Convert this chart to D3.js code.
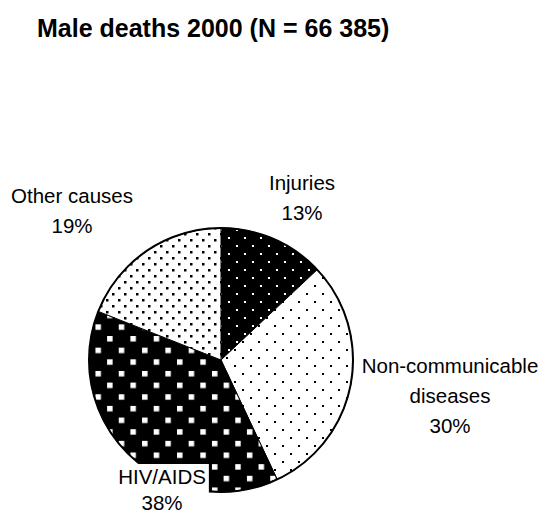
<!DOCTYPE html>
<html>
<head>
<meta charset="utf-8">
<script src="https://cdn.jsdelivr.net/npm/d3@7"></script>
<style>
  body { margin: 0; background: #fff; }
  svg { display: block; }
  text { font-family: Arial, "Liberation Sans", sans-serif; fill: #000; }
</style>
</head>
<body>
<svg id="chart" width="541" height="513"></svg>
<script>
// Causes of male deaths, 2000 (percent of all deaths)
const categories = ["Injuries", "Non-communicable diseases", "HIV/AIDS", "Other causes"];
const shares = [13, 30, 38, 19];
const labelLines = [["Injuries"], ["Non-communicable", "diseases"], ["HIV/AIDS"], ["Other causes"]];
const titleText = "Male deaths 2000 (N = 66 385)";

// layout
const W = 541, H = 513;
const cx = 221, cy = 360, R = 132;
const lineGap = [30, 30, 26, 30];
// first-line baseline of each label, relative to the pie centre
const labelOffset = [[81, -170], [229, 13], [-59, 124], [-149, -157]];
// labels drawn on an opaque white box
const labelBoxed = [false, false, true, false];
const fills = ["url(#pInj)", "url(#pNcd)", "url(#pHiv)", "url(#pOth)"];

const svg = d3.select("#chart");
const defs = svg.append("defs");

// dot / square hatch patterns
function pattern(id, size, bg, fg, dot, offs) {
  const p = defs.append("pattern")
    .attr("id", id)
    .attr("patternUnits", "userSpaceOnUse")
    .attr("width", size).attr("height", size)
    .attr("x", offs[0]).attr("y", offs[1]);
  p.append("rect").attr("width", size).attr("height", size).attr("fill", bg);
  [[0, 0], [size / 2, size / 2]].forEach(([x, y]) => {
    p.append("rect").attr("x", x).attr("y", y)
      .attr("width", dot).attr("height", dot).attr("fill", fg);
  });
}
pattern("pInj", 16, "#000", "#fff", 2, [223, 237]);
pattern("pNcd", 16, "#fff", "#000", 2, [213, 285]);
pattern("pHiv", 23.3, "#000", "#fff", 5.5, [189, 442]);
pattern("pOth", 12, "#fff", "#000", 2.5, [149, 263]);

svg.append("text")
  .attr("x", 37).attr("y", 37)
  .attr("font-size", 25).attr("font-weight", "bold")
  .text(titleText);

const pie = d3.pie().sort(null).value(d => d)(shares);
const arc = d3.arc().innerRadius(0).outerRadius(R);

const g = svg.append("g").attr("transform", `translate(${cx},${cy})`);

g.selectAll("path.slice")
  .data(pie)
  .join("path")
  .attr("class", "slice")
  .attr("d", arc)
  .attr("fill", (d, i) => fills[i])
  .attr("stroke", "#000")
  .attr("stroke-width", 1);

g.append("circle")
  .attr("r", R)
  .attr("fill", "none")
  .attr("stroke", "#000")
  .attr("stroke-width", 2);

const labelGroups = g.selectAll("g.lbl")
  .data(pie)
  .join("g")
  .attr("class", "lbl");

labelGroups.each(function (d, i) {
  const grp = d3.select(this);
  const [ox, oy] = labelOffset[i];
  const t = grp.append("text")
    .attr("font-size", 20.5)
    .attr("text-anchor", "middle");
  const lines = labelLines[i].concat([d3.format("d")(d.data) + "%"]);
  lines.forEach((s, k) => {
    t.append("tspan").attr("x", ox).attr("y", oy + k * lineGap[i]).text(s);
  });
  if (labelBoxed[i]) {
    const b = t.node().getBBox();
    grp.insert("rect", "text")
      .attr("x", b.x - 3).attr("y", b.y - 1)
      .attr("width", b.width + 6).attr("height", b.height + 4)
      .attr("fill", "#fff");
  }
});
</script>
</body>
</html>
